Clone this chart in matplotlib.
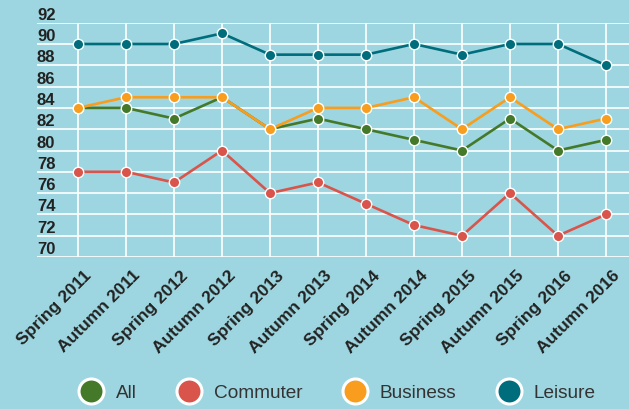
import matplotlib.pyplot as plt
from matplotlib.lines import Line2D
from matplotlib.transforms import offset_copy

periods = ['Spring 2011', 'Autumn 2011', 'Spring 2012', 'Autumn 2012',
           'Spring 2013', 'Autumn 2013', 'Spring 2014', 'Autumn 2014',
           'Spring 2015', 'Autumn 2015', 'Spring 2016', 'Autumn 2016']
all_pax = [84, 84, 83, 85, 82, 83, 82, 81, 80, 83, 80, 81]
commuter = [78, 78, 77, 80, 76, 77, 75, 73, 72, 76, 72, 74]
business = [84, 85, 85, 85, 82, 84, 84, 85, 82, 85, 82, 83]
leisure = [90, 90, 90, 91, 89, 89, 89, 90, 89, 90, 90, 88]
yticks = [70, 72, 74, 76, 78, 80, 82, 84, 86, 88, 90, 92]

bg = '#9dd6e0'
series = [('All', all_pax, '#45792a'),
          ('Commuter', commuter, '#d9544b'),
          ('Business', business, '#f89d1d'),
          ('Leisure', leisure, '#006d7c')]

plt.rcParams['font.family'] = ['Liberation Sans', 'DejaVu Sans']

fig = plt.figure(figsize=(6.29, 4.09), dpi=100, facecolor=bg)
ax = fig.add_axes([0.0588, 0.3716, 0.9412, 0.5729], facecolor=bg)

x = list(range(len(periods)))
for name, vals, col in series:
    ax.plot(x, vals, color=col, lw=1.9, marker='o', ms=7.5,
            mfc=col, mec='white', mew=1.0, zorder=3)

ax.set_xlim(-0.854, 11.479)
ax.set_ylim(70, 92)
ax.set_yticks(yticks)
ax.set_xticks(x)
ax.set_xticklabels([])
# rotated period labels, nudged down/right under each tick
lab_tr = offset_copy(ax.get_xaxis_transform(), fig=fig, x=6, y=-11,
                     units='dots')
for i, lab in zip(x, periods):
    ax.text(i, 0, lab, transform=lab_tr, rotation=45, ha='right', va='top',
            rotation_mode='anchor', fontsize=12.5, fontweight='bold',
            color='#222222')
ax.set_yticklabels([str(v) for v in yticks], fontsize=12, fontweight='bold',
                   color='#222222')
for t in ax.get_yticklabels():
    t.set_ha('left')
    t.set_va('bottom')
ax.tick_params(axis='y', length=0, pad=0)
ax.tick_params(axis='x', length=0)
ax.grid(True, color='white', lw=1.2)
ax.set_axisbelow(True)
for s in ax.spines.values():
    s.set_visible(False)

handles = [Line2D([], [], ls='none', marker='o', ms=18, mfc=col,
                  mec='white', mew=2.2) for _, _, col in series]
fig.legend(handles, [s[0] for s in series], loc='center left',
           bbox_to_anchor=(77 / 629, 0.039), ncol=4, frameon=False,
           borderpad=0, borderaxespad=0, fontsize=13.7, handlelength=1.5,
           handletextpad=0.55, columnspacing=2.0, labelcolor='#333333')

fig.savefig('out.png', dpi=100, facecolor=bg)
